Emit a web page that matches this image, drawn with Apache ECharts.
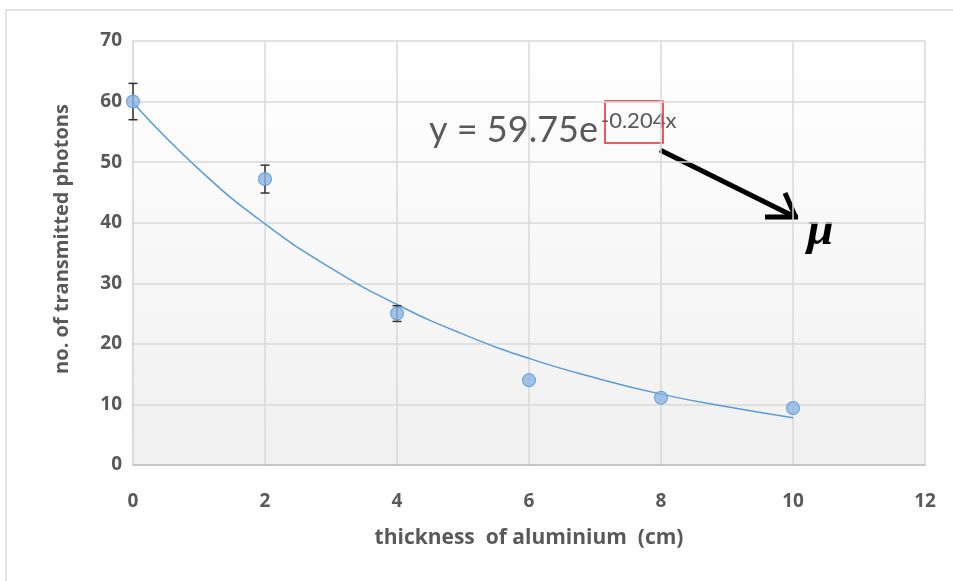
<!DOCTYPE html>
<html>
<head>
<meta charset="utf-8">
<script src="https://cdn.jsdelivr.net/npm/echarts@6/dist/echarts.min.js"></script>
<style>html,body{margin:0;padding:0;background:#fff}#c{width:953px;height:581px}</style>
</head>
<body>
<div id="c"></div>
<script>
const thickness = [0, 2, 4, 6, 8, 10];
const photons = [60, 47.2, 25.0, 14.0, 11.1, 9.4];
const errors = [3.0, 2.3, 1.3, 0, 0, 0];
const trendX = [0, 1, 2, 3, 4, 5, 6, 7, 8, 9, 10];
const trendY = [59.8, 48.8, 39.8, 32.5, 26.5, 21.6, 17.6, 14.4, 11.7, 9.6, 7.8];
const xTicks = [0, 2, 4, 6, 8, 10, 12];
const yTicks = [0, 10, 20, 30, 40, 50, 60, 70];

const chart = echarts.init(document.getElementById('c'));
const labelStyle = { color: '#595959', fontFamily: 'Open Sans', fontWeight: 'bold', fontSize: 19 };
chart.setOption({
  animation: false,
  backgroundColor: '#fff',
  grid: {
    left: 133, right: 28, top: 41, bottom: 116,
    show: true, borderWidth: 0,
    backgroundColor: { type: 'linear', x: 0, y: 0, x2: 0, y2: 1,
      colorStops: [{ offset: 0, color: '#ffffff' }, { offset: 1, color: '#f0f0f0' }] }
  },
  xAxis: {
    type: 'value', min: xTicks[0], max: xTicks[xTicks.length - 1], interval: 2,
    name: 'thickness  of aluminium  (cm)', nameLocation: 'middle', nameGap: 63,
    nameTextStyle: { color: '#595959', fontFamily: 'Open Sans', fontWeight: 'bold', fontSize: 21 },
    axisLine: { show: true, lineStyle: { color: '#bfbfbf', width: 1.5 } },
    axisTick: { show: false },
    axisLabel: Object.assign({ margin: 27 }, labelStyle),
    splitLine: { show: true, lineStyle: { color: '#d9d9d9', width: 1.5 } }
  },
  yAxis: {
    type: 'value', min: yTicks[0], max: yTicks[yTicks.length - 1], interval: 10,
    name: 'no. of transmitted photons', nameLocation: 'middle', nameGap: 61, nameRotate: 90,
    nameTextStyle: { color: '#595959', fontFamily: 'Open Sans', fontWeight: 'bold', fontSize: 20, padding: [0, 0, 0, 28] },
    axisLine: { show: true, lineStyle: { color: '#d9d9d9', width: 1.5 } },
    axisTick: { show: false },
    axisLabel: Object.assign({ margin: 11 }, labelStyle),
    splitLine: { show: true, lineStyle: { color: '#d9d9d9', width: 1.5 } }
  },
  series: [
    {
      type: 'line', data: trendX.map((x, i) => [x, trendY[i]]), smooth: true,
      showSymbol: false, lineStyle: { color: '#5b9bd5', width: 1.5 }, z: 2
    },
    {
      type: 'custom', z: 3,
      data: thickness.map((x, i) => [x, photons[i] - errors[i], photons[i] + errors[i]]),
      renderItem: function (params, api) {
        const lo = api.coord([api.value(0), api.value(1)]);
        const hi = api.coord([api.value(0), api.value(2)]);
        if (Math.abs(lo[1] - hi[1]) < 1) return null;
        const w = 4.5;
        const st = { stroke: '#333333', lineWidth: 1.5 };
        return { type: 'group', children: [
          { type: 'line', shape: { x1: lo[0], y1: lo[1], x2: hi[0], y2: hi[1] }, style: st },
          { type: 'line', shape: { x1: lo[0] - w, y1: lo[1], x2: lo[0] + w, y2: lo[1] }, style: st },
          { type: 'line', shape: { x1: hi[0] - w, y1: hi[1], x2: hi[0] + w, y2: hi[1] }, style: st }
        ] };
      }
    },
    {
      type: 'scatter', data: thickness.map((x, i) => [x, photons[i]]), symbol: 'circle', symbolSize: 13, z: 4,
      itemStyle: { color: '#8db4e3', borderColor: '#5b9bd5', borderWidth: 1.2 }
    }
  ],
  graphic: [
    { type: 'rect', shape: { x: 6, y: 10, width: 960, height: 600 }, style: { fill: 'none', stroke: '#d9d9d9', lineWidth: 1.5 }, z: -10 },
    { type: 'text', x: 429, y: 130, style: { text: 'y = 59.75e', fill: '#595959', font: '36px Lato', verticalAlign: 'middle' } },
    { type: 'text', x: 601, y: 121, style: { text: '-0.204x', fill: '#595959', font: '22px Lato', verticalAlign: 'middle' } },
    { type: 'rect', shape: { x: 605, y: 101, width: 58, height: 42 }, style: { fill: 'none', stroke: '#e8262a', lineWidth: 1.5 } },
    { type: 'line', shape: { x1: 660, y1: 150, x2: 795, y2: 217 }, style: { stroke: '#000', lineWidth: 5 } },
    { type: 'line', shape: { x1: 765, y1: 217, x2: 798, y2: 217 }, style: { stroke: '#000', lineWidth: 5 } },
    { type: 'line', shape: { x1: 785, y1: 193, x2: 796, y2: 218 }, style: { stroke: '#000', lineWidth: 5 } },
    { type: 'text', x: 807, y: 232, style: { text: 'μ', fill: '#000', font: 'italic bold 48px "Liberation Serif"', verticalAlign: 'middle' } }
  ]
});
</script>
</body>
</html>
